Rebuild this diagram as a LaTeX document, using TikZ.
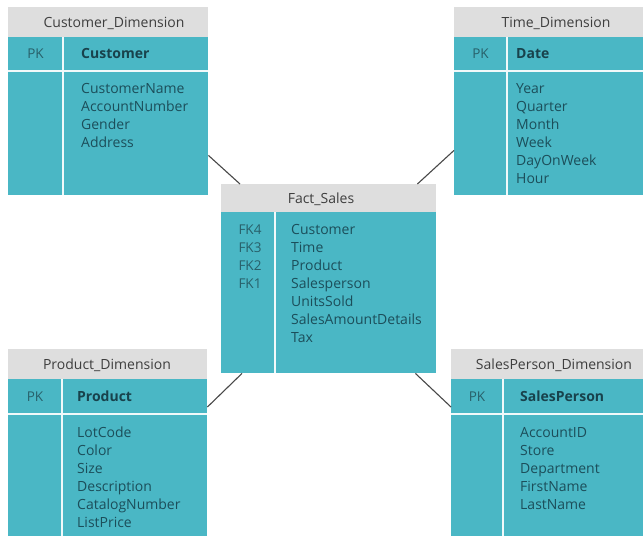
\documentclass[tikz,border=0pt]{standalone}
\usepackage{fontspec}
\setmainfont{Open Sans}
\usetikzlibrary{calc}
\definecolor{tealfill}{RGB}{74,183,197}
\definecolor{hdrgray}{RGB}{222,222,222}
\definecolor{hdrtext}{RGB}{62,62,62}
\definecolor{celltext}{RGB}{28,78,90}
\definecolor{keytext}{RGB}{40,96,106}
\definecolor{linkgray}{RGB}{72,72,72}
\tikzset{
  hdrbox/.style={fill=hdrgray, draw=none, inner sep=0pt, anchor=north west},
  cellbox/.style={fill=tealfill, draw=none, inner sep=0pt, anchor=north west},
  divider/.style={draw=white!92!tealfill, line width=1.6pt},
  hdrlabel/.style={text=hdrtext, inner sep=0pt, anchor=base, font=\fontsize{14}{18}\selectfont},
  keylabel/.style={text=keytext, inner sep=0pt, anchor=base, font=\fontsize{13.5}{18}\selectfont},
  pklabel/.style={text=celltext!85!black, inner sep=0pt, anchor=base west, font=\bfseries\fontsize{14}{18}\selectfont},
  attr/.style={text=celltext, inner sep=0pt, anchor=base west, font=\fontsize{14}{18}\selectfont},
  link/.style={draw=linkgray, line width=1.1pt}
}
\begin{document}
\begin{tikzpicture}[x=1pt, y=-1pt]
\useasboundingbox (0,0) rectangle (643,536);
\fill[white] (0,0) rectangle (643,536);

% ---------- Customer_Dimension ----------
\node[hdrbox,  minimum width=200pt, minimum height=30pt]  (cust-h) at (8,7)  {};
\node[cellbox, minimum width=200pt, minimum height=34pt]  (cust-k) at (8,37) {};
\node[cellbox, minimum width=200pt, minimum height=124pt] (cust-b) at (8,71) {};
\draw[divider] ([xshift=55pt]cust-k.north west) -- ([xshift=55pt]cust-b.south west);
\draw[divider] (cust-b.north west) -- (cust-b.north east);
\node[hdrlabel] (cust-t) at (114,27) {Customer\_Dimension};
\node[keylabel] (cust-pk) at (35.5,58) {PK};
\node[pklabel]  (cust-id) at (81,58) {Customer};
\foreach \t [count=\i] in {CustomerName,AccountNumber,Gender,Address}
  \node[attr] (cust-f\i) at (81,{75+18*\i}) {\t};

% ---------- Time_Dimension ----------
\node[hdrbox,  minimum width=189pt, minimum height=30pt]  (time-h) at (454,7)  {};
\node[cellbox, minimum width=189pt, minimum height=34pt]  (time-k) at (454,37) {};
\node[cellbox, minimum width=189pt, minimum height=124pt] (time-b) at (454,71) {};
\draw[divider] ([xshift=53pt]time-k.north west) -- ([xshift=53pt]time-b.south west);
\draw[divider] (time-b.north west) -- (time-b.north east);
\node[hdrlabel] (time-t) at (556,27) {Time\_Dimension};
\node[keylabel] (time-pk) at (480.5,58) {PK};
\node[pklabel]  (time-id) at (516,58) {Date};
\foreach \t [count=\i] in {Year,Quarter,Month,Week,DayOnWeek,Hour}
  \node[attr] (time-f\i) at (516,{75+18*\i}) {\t};

% ---------- Fact_Sales ----------
\node[hdrbox,  minimum width=215pt, minimum height=28pt]  (fact-h) at (221,184) {};
\node[cellbox, minimum width=215pt, minimum height=161pt] (fact-b) at (221,212) {};
\draw[divider] ([xshift=54pt]fact-b.north west) -- ([xshift=54pt]fact-b.south west);
\node[hdrlabel] (fact-t) at (321,203) {Fact\_Sales};
\foreach \k [count=\i] in {FK4,FK3,FK2,FK1}
  \node[keylabel] (fact-k\i) at (250,{216+18*\i}) {\k};
\foreach \t [count=\i] in {Customer,Time,Product,Salesperson,UnitsSold,SalesAmountDetails,Tax}
  \node[attr] (fact-f\i) at (291,{216+18*\i}) {\t};

% ---------- Product_Dimension ----------
\node[hdrbox,  minimum width=199pt, minimum height=30pt]  (prod-h) at (8,349) {};
\node[cellbox, minimum width=199pt, minimum height=35pt]  (prod-k) at (8,379) {};
\node[cellbox, minimum width=199pt, minimum height=122pt] (prod-b) at (8,414) {};
\draw[divider] ([xshift=54pt]prod-k.north west) -- ([xshift=54pt]prod-b.south west);
\draw[divider] (prod-b.north west) -- (prod-b.north east);
\node[hdrlabel] (prod-t) at (107,369) {Product\_Dimension};
\node[keylabel] (prod-pk) at (35,401) {PK};
\node[pklabel]  (prod-id) at (77,401) {Product};
\foreach \t [count=\i] in {LotCode,Color,Size,Description,CatalogNumber,ListPrice}
  \node[attr] (prod-f\i) at (77,{419+18*\i}) {\t};

% ---------- SalesPerson_Dimension ----------
\node[hdrbox,  minimum width=192pt, minimum height=30pt]  (sp-h) at (451,349) {};
\node[cellbox, minimum width=192pt, minimum height=35pt]  (sp-k) at (451,379) {};
\node[cellbox, minimum width=192pt, minimum height=122pt] (sp-b) at (451,414) {};
\draw[divider] ([xshift=52pt]sp-k.north west) -- ([xshift=52pt]sp-b.south west);
\draw[divider] (sp-b.north west) -- (sp-b.north east);
\node[hdrlabel] (sp-t) at (554,369) {SalesPerson\_Dimension};
\node[keylabel] (sp-pk) at (477,401) {PK};
\node[pklabel]  (sp-id) at (520,401) {SalesPerson};
\foreach \t [count=\i] in {AccountID,Store,Department,FirstName,LastName}
  \node[attr] (sp-f\i) at (520,{419+18*\i}) {\t};

% ---------- relationships ----------
\draw[link] ([yshift=40pt]cust-b.south east) -- ([xshift=19pt]fact-h.north west);
\draw[link] ([yshift=45pt]time-b.south west) -- ([xshift=-19pt]fact-h.north east);
\draw[link] ([yshift=-28pt]prod-k.north east) -- ([xshift=21pt]fact-b.south west);
\draw[link] ([xshift=-21pt]fact-b.south east) -- ([yshift=-28pt]sp-k.north west);
\end{tikzpicture}
\end{document}
